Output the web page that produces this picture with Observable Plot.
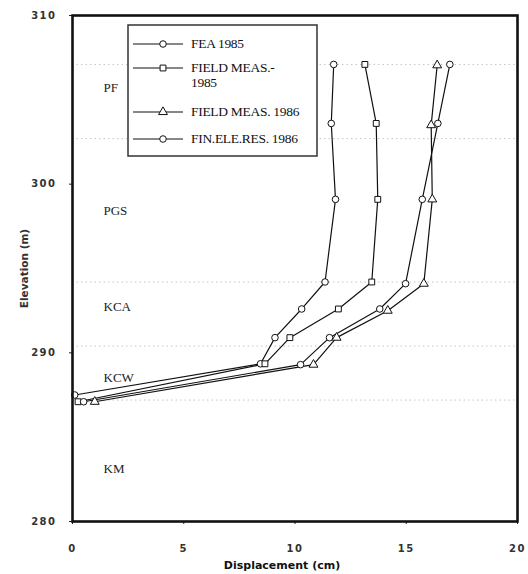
<!DOCTYPE html>
<html><head><meta charset="utf-8">
<script src="https://cdn.jsdelivr.net/npm/d3@7"></script>
<script src="https://cdn.jsdelivr.net/npm/@observablehq/plot@0.6"></script>
<style>
body{margin:0;background:#fff;}
#wrap{position:relative;width:528px;height:574px;}
#legend{position:absolute;left:127px;top:24px;}
</style></head><body><div id="wrap"></div>
<script>
// ---- data ----
const seriesNames = ["FEA 1985", "FIELD MEAS.- 1985", "FIELD MEAS. 1986", "FIN.ELE.RES. 1986"];
const seriesSymbols = ["circle", "square", "triangle", "circle"];

const elevFEA85 = [307.1, 303.6, 299.1, 294.2, 292.6, 290.9, 289.35, 287.5];
const dispFEA85 = [11.74, 11.63, 11.82, 11.35, 10.3, 9.1, 8.45, 0.1];

const elevMeas85 = [307.1, 303.6, 299.1, 294.2, 292.6, 290.9, 289.35, 287.1];
const dispMeas85 = [13.14, 13.65, 13.72, 13.45, 11.95, 9.77, 8.65, 0.25];

const elevMeas86 = [307.05, 303.5, 299.1, 294.1, 292.5, 290.9, 289.3, 287.1];
const dispMeas86 = [16.39, 16.12, 16.17, 15.79, 14.17, 11.87, 10.83, 1.0];

const elevFin86 = [307.1, 303.6, 299.1, 294.1, 292.6, 290.9, 289.3, 287.1];
const dispFin86 = [16.96, 16.42, 15.72, 14.97, 13.81, 11.55, 10.25, 0.5];

const layerNames = ["PF", "PGS", "KCA", "KCW", "KM"];
const layerElev = [305.7, 298.4, 292.7, 288.5, 283.1];
const boundaryElev = [307.1, 302.7, 294.2, 290.4, 287.2];

const xTicks = [0, 5, 10, 15, 20];
const yTicks = [280, 290, 300, 310];

// ---- build table ----
const allElev = [elevFEA85, elevMeas85, elevMeas86, elevFin86];
const allDisp = [dispFEA85, dispMeas85, dispMeas86, dispFin86];
const rows = [];
seriesNames.forEach((s, i) => allElev[i].forEach((e, j) => rows.push({series: s, elev: e, disp: allDisp[i][j]})));
const layers = layerNames.map((n, i) => ({name: n, elev: layerElev[i]}));

const chart = Plot.plot({
  width: 528, height: 574,
  marginLeft: 72, marginRight: 11, marginTop: 15, marginBottom: 53,
  style: {fontFamily: "DejaVu Sans", fontSize: "9px", color: "#222", background: "#fff"},
  x: {domain: [0, 20]},
  y: {domain: [280, 310]},
  symbol: {domain: seriesNames, range: seriesSymbols},
  marks: [
    Plot.ruleY(boundaryElev, {stroke: "#c4c4c4", strokeDasharray: "1.5,3", strokeWidth: 1}),
    Plot.line(rows, {x: "disp", y: "elev", z: "series", stroke: "#111", strokeWidth: 1.2}),
    Plot.dot(rows, {x: "disp", y: "elev", symbol: "series", r: 3.3, fill: "white", stroke: "#111", strokeWidth: 1}),
    Plot.text(layers, {y: "elev", text: "name", frameAnchor: "left", dx: 31, textAnchor: "start",
      fontFamily: "Liberation Serif", fontSize: 13, fill: "#222"}),
    Plot.axisX({ticks: xTicks, tickSize: 3, tickPadding: 20, fontWeight: "bold", fontSize: 10,
      fill: "#333", label: null}),
    Plot.axisY({ticks: yTicks, tickSize: 3, tickPadding: 13, fontWeight: "bold", fontSize: 10,
      fill: "#333",
      label: "Elevation (m)", labelAnchor: "center", labelArrow: "none", labelOffset: 52}),
    Plot.text(["Displacement (cm)"], {frameAnchor: "bottom", dy: 47, dx: -13, text: d => d,
      fontWeight: "bold", fontSize: 11, fill: "#111"}),
    Plot.frame({stroke: "#111", strokeWidth: 2.6})
  ]
});
// widen the tick numbers like the scanned original
d3.select(chart).selectAll("[aria-label='x-axis tick label'] text, [aria-label='y-axis tick label'] text")
  .style("letter-spacing", "1.5px");
d3.select(chart).selectAll("[aria-label='y-axis label'] text").style("font-size", "10.5px");
document.getElementById("wrap").appendChild(chart);

// ---- legend (inside plot, upper left) ----
const lw = 191, lh = 133;
const leg = d3.select("#wrap").append("svg").attr("id", "legend").attr("width", lw).attr("height", lh);
leg.append("rect").attr("x", 1).attr("y", 1).attr("width", lw - 2).attr("height", lh - 2)
  .attr("fill", "white").attr("stroke", "#333").attr("stroke-width", 1.5);
const legY = [20, 44, 88, 115];
const symGen = name => d3.symbol(name === "square" ? d3.symbolSquare : name === "triangle" ? d3.symbolTriangle : d3.symbolCircle, 34)();
seriesNames.forEach((s, i) => {
  const g = leg.append("g").attr("transform", `translate(0,${legY[i]})`);
  g.append("line").attr("x1", 6).attr("x2", 56).attr("stroke", "#111").attr("stroke-width", 1.2);
  g.append("path").attr("d", symGen(seriesSymbols[i])).attr("transform", "translate(36,0)")
    .attr("fill", "white").attr("stroke", "#111");
  const t = g.append("text").attr("x", 64).attr("y", 4).attr("font-family", "Liberation Serif")
    .attr("font-size", 13.5).attr("fill", "#111").attr("letter-spacing", "-0.3px");
  if (i === 1) {
    t.append("tspan").attr("x", 64).text("FIELD MEAS.-");
    t.append("tspan").attr("x", 64).attr("dy", 15).text("1985");
  } else t.text(s);
});
</script></body></html>
